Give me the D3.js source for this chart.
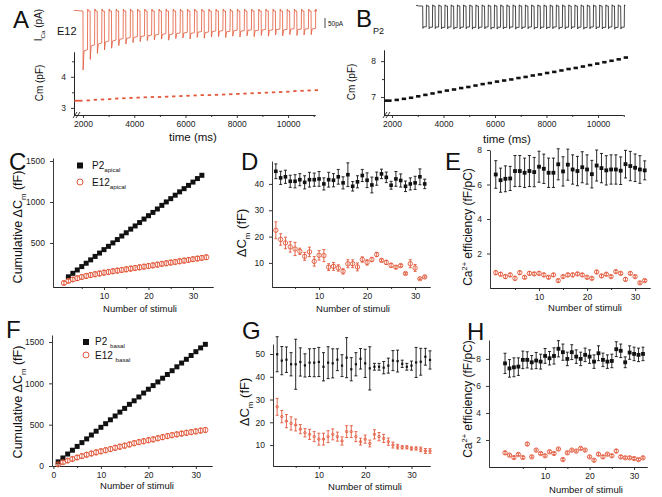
<!DOCTYPE html>
<html><head><meta charset="utf-8">
<script src="https://cdn.jsdelivr.net/npm/d3@7"></script>
<style>
body{margin:0;background:#fff}
svg{font-family:"Liberation Sans",Arial,sans-serif}
.axis path,.axis line{stroke:#222;stroke-width:0.9}
.axis text{font-size:8.5px;fill:#222}
</style></head><body><svg id="fig" width="662" height="497"></svg>
<script>
// ---- traces (A, B) ----
const pulseTimes = [2000,2278,2556,2834,3112,3390,3668,3946,4224,4502,4780,5058,5336,5614,5892,6170,6448,6726,7004,7282,7560,7838,8116,8394,8672,8950,9228,9506,9784,10062,10340,10618,10896];
const aPeak = [295,242,212,195,186,173,165,158,153,148,144,140,146,138,135,140,132,136,130,128,133,126,130,124,128,122,126,120,124,118,122,120,118];
const aSustain = [200,175,165,155,150,142,137,132,128,124,120,117,118,113,110,112,106,108,103,101,104,99,101,97,99,95,97,93,95,91,93,91,90];
const bPeak = [112,114,113,115,114,116,115,114,116,115,114,116,115,115,114,116,115,114,116,115,115,114,116,115,114,115,116,114,115,115,114,116,115];
const bSustain = [104,106,105,107,105,108,106,105,107,106,105,108,106,107,105,107,106,105,108,106,107,105,107,106,105,106,108,105,106,107,105,107,106];
const cmE12 = [3.23,3.24,3.26,3.27,3.28,3.30,3.31,3.32,3.33,3.34,3.35,3.35,3.36,3.37,3.38,3.39,3.40,3.41,3.41,3.42,3.43,3.44,3.45,3.46,3.47,3.48,3.49,3.50,3.51,3.52,3.54,3.55,3.56,3.57];
const cmP2 = [6.90,6.92,6.95,6.98,7.02,7.06,7.10,7.14,7.18,7.21,7.25,7.28,7.32,7.36,7.39,7.43,7.46,7.49,7.53,7.56,7.60,7.63,7.67,7.70,7.74,7.78,7.81,7.85,7.89,7.93,7.97,8.01,8.05,8.10];
const timeTicks = [2000,4000,6000,8000,10000];
const timeMinor = [3000,5000,7000,9000,11000];

// ---- apical (C, D, E) ----
const stimTicks = [10,20,30];
const stimMinor = [5,15,25];
const cumApicalP2 = [87,130,171,212,253,294,336,377,419,459,501,542,585,625,669,708,749,792,833,873,915,959,1001,1041,1083,1124,1163,1203,1243,1286,1326]; // stimuli 2..32
const cumApicalE12 = [12,38,55,70,85,98,109,119,128,138,146,155,163,171,179,187,195,203,211,219,227,236,245,253,261,269,277,285,293,302,310,318,326];
const cumApicalE12Err = [20,25,25,28,28,30,30,30,30,30,30,30,30,30,30,30,30,30,30,30,30,30,30,30,30,30,30,30,28,28,28,28,28];
const dApicalP2 = [44.8,42.3,42.7,41.0,41.0,41.6,40.6,41.6,41.6,41.9,40.0,41.6,41.4,42.7,40.4,43.5,39.1,40.8,43.2,41.4,39.6,42.0,43.8,42.5,39.5,41.9,41.3,39.1,40.0,40.4,42.7,40.0];
const dApicalP2Err = [2.8,2.5,2.5,2.3,2.5,2.3,2.5,2.8,2.5,2.8,2.3,2.8,2.5,2.8,2.3,4.5,1.8,2.3,2.3,2.8,3,2.5,1.8,2,1.5,2.8,2.5,2,2.3,2.5,3,1.8];
const dApicalE12 = [22.4,18.9,17.6,16.1,15.3,14.4,12.5,14.2,10.6,12.9,12.8,8.4,8.7,8.1,6.8,9.7,9.7,8.5,11.3,10.2,11.3,13.2,11.0,10.2,9.1,8.4,9.0,6.0,9.7,8.1,4.0,4.7];
const dApicalE12Err = [3.2,2.2,2.2,2,2.5,1.2,1.5,1.8,1.8,1.8,2.3,1.3,1.5,1.2,1,1.5,1.5,1.5,1,1,0.8,0.8,0.5,0.8,0.8,0.5,0.5,0.3,1.5,1.3,0.3,0.4];
const effApicalP2 = [6.58,6.25,6.33,6.35,6.78,6.78,6.68,6.78,6.72,7.03,6.91,6.68,6.68,7.17,6.76,7.15,6.87,6.78,7.0,6.87,6.6,7.1,6.95,6.82,6.87,6.87,6.8,7.18,7.07,6.97,6.87,6.82];
const effApicalP2Err = [0.8,0.7,0.75,0.7,0.9,0.9,0.85,0.9,0.85,0.9,0.85,0.85,0.85,0.9,0.85,0.9,0.85,0.85,0.9,0.85,0.8,0.9,0.85,0.85,0.85,0.85,0.8,0.8,0.85,0.8,0.8,0.55];
const effApicalE12 = [0.89,0.8,0.66,0.76,0.56,0.89,0.62,0.85,0.82,0.85,0.76,0.62,0.76,0.43,0.66,0.76,0.76,0.82,0.76,0.62,0.56,0.93,0.7,0.8,0.66,0.95,0.85,0.5,0.85,0.66,0.3,0.43];
const effApicalE12Err = [0.12,0.1,0.1,0.1,0.12,0.1,0.08,0.1,0.08,0.1,0.1,0.08,0.08,0.08,0.08,0.1,0.1,0.08,0.08,0.08,0.08,0.08,0.08,0.08,0.08,0.08,0.08,0.1,0.08,0.08,0.06,0.06];

// ---- basal (F, G, H) ----
const cumBasalP2 = [50,97,145,191,237,283,328,375,421,468,512,559,605,652,697,746,789,835,883,929,973,1017,1062,1107,1153,1200,1246,1291,1337,1383,1429,1472];
const cumBasalE12 = [20,45,65,85,103,120,136,151,165,178,191,205,220,234,246,261,276,289,300,312,322,336,349,362,373,383,392,401,410,419,428,436];
const cumBasalE12Err = [15,20,22,25,25,28,28,28,30,30,30,30,30,30,30,30,30,30,30,30,30,30,30,30,30,30,30,30,30,30,30,30];
const dBasalP2 = [49.9,47.1,47.5,45.5,45.5,46.5,45.0,46.2,46.2,46.5,44.4,46.2,45.9,47.5,44.9,48.4,43.3,45.5,47.9,45.9,43.7,44.4,44.4,44.0,44.9,47.1,46.9,45.7,44.4,44.9,46.3,46.6,48.8,47.4];
const dBasalP2Err = [7.7,6.2,5.6,5.1,11,6.2,5.1,6.1,6.2,6.4,6.2,7,6.4,4.8,4.8,8.8,5.1,5.1,4.5,6.2,9.5,1.5,1.5,2.7,3.3,4.4,4.8,1.6,1.5,2,6.6,5.9,3.7,4];
const dBasalE12 = [26.8,22.5,20.5,19.5,18.8,17.0,15.4,14.7,13.7,12.6,12.6,13.7,14.7,13.7,11.8,15.9,15.9,13.7,11.5,12.6,10.7,14.7,13.7,12.9,11.5,10.0,9.3,9.0,9.0,8.5,8.5,8.1,7.4,7.4];
const dBasalE12Err = [3.7,2.7,2.9,2.9,2.6,2,1.8,2.2,2.2,2.6,2.6,2.6,2.4,2,1.8,2.6,2.6,2.2,1.5,1.8,1.5,2,1.8,1.8,1.6,1.3,1,0.7,0.7,0.7,0.7,1,1.1,1];
const effBasalP2 = [7.67,7.3,7.38,7.43,7.93,7.93,7.75,7.88,7.8,8.22,8.05,8.22,8.75,8.5,8.0,8.5,8.17,8.0,8.3,8.17,7.8,8.42,7.93,7.8,7.85,8.72,8.6,7.75,8.47,8.37,8.3,8.37];
const effBasalP2Err = [0.75,0.65,0.7,0.65,0.65,0.6,0.5,0.6,0.55,0.55,0.5,0.6,0.6,0.6,0.5,0.55,0.5,0.5,0.5,0.5,0.5,0.55,0.5,0.5,0.5,0.55,0.5,0.4,0.5,0.5,0.5,0.5];
const effBasalE12 = [1.05,0.88,0.7,0.93,0.7,1.7,0.75,1.25,1.0,0.83,1.13,1.0,1.33,0.55,1.05,1.25,1.18,1.38,1.25,0.75,0.5,0.95,0.75,0.95,0.83,1.18,0.75,0.68,0.68,0.63,0.55,0.68];
const effBasalE12Err = [0.1,0.08,0.08,0.08,0.08,0.1,0.08,0.08,0.08,0.08,0.08,0.08,0.08,0.08,0.08,0.08,0.08,0.08,0.08,0.08,0.08,0.1,0.1,0.08,0.1,0.12,0.1,0.08,0.08,0.08,0.08,0.08];

const RED = "#e2583a";
const BLK = "#111";
const svg = d3.select("#fig");

function panel(xr, yr, xd, yd) {
  return {x: d3.scaleLinear().domain(xd).range(xr), y: d3.scaleLinear().domain(yd).range(yr)};
}

function axes(p, xt, xm, yt, ym) {
  const by = p.y.range()[0], lx = p.x.range()[0];
  svg.append("g").attr("class", "axis").attr("transform", `translate(0,${by})`)
    .call(d3.axisBottom(p.x).tickValues(xt).tickSize(3).tickSizeOuter(0).tickPadding(3).tickFormat(d3.format("d")));
  if (xm) svg.append("g").attr("class", "axis").attr("transform", `translate(0,${by})`)
    .call(d3.axisBottom(p.x).tickValues(xm).tickSize(2).tickSizeOuter(0).tickFormat(""));
  svg.append("g").attr("class", "axis").attr("transform", `translate(${lx},0)`)
    .call(d3.axisLeft(p.y).tickValues(yt).tickSize(3).tickSizeOuter(0).tickPadding(5).tickFormat(d3.format("d")));
  if (ym) svg.append("g").attr("class", "axis").attr("transform", `translate(${lx},0)`)
    .call(d3.axisLeft(p.y).tickValues(ym).tickSize(2).tickSizeOuter(0).tickFormat(""));
}

function brk(p) {
  const by = p.y.range()[0], lx = p.x.range()[0];
  [0, 3].forEach(o => svg.append("line")
    .attr("x1", lx - 1 + o).attr("y1", by + 3).attr("x2", lx + 3 + o).attr("y2", by - 3)
    .attr("stroke", "#222").attr("stroke-width", 0.9));
}

function squares(p, xs, ys, s, color) {
  svg.append("g").selectAll("rect").data(ys).join("rect")
    .attr("x", (d, i) => p.x(xs[i]) - s / 2).attr("y", d => p.y(d) - s / 2)
    .attr("width", s).attr("height", s).attr("fill", color);
}

function circles(p, xs, ys, r, color) {
  svg.append("g").selectAll("circle").data(ys).join("circle")
    .attr("cx", (d, i) => p.x(xs[i])).attr("cy", d => p.y(d)).attr("r", r)
    .attr("fill", "none").attr("stroke", color).attr("stroke-width", 0.9);
}

function errbars(p, xs, ys, es, cap, color) {
  const g = svg.append("g").attr("stroke", color).attr("stroke-width", 0.9);
  ys.forEach((d, i) => {
    const x = p.x(xs[i]), y1 = p.y(d - es[i]), y2 = p.y(d + es[i]);
    g.append("line").attr("x1", x).attr("x2", x).attr("y1", y1).attr("y2", y2);
    g.append("line").attr("x1", x - cap).attr("x2", x + cap).attr("y1", y1).attr("y2", y1);
    g.append("line").attr("x1", x - cap).attr("x2", x + cap).attr("y1", y2).attr("y2", y2);
  });
}

// text with sub/superscript parts: [text, kind] kind: 0 normal, 1 sub, 2 sup
function rich(x, y, parts, size, opts = {}) {
  const t = svg.append("text").attr("font-size", size).attr("fill", "#111")
    .attr("text-anchor", opts.anchor || "start");
  if (opts.rotate) t.attr("transform", `translate(${x},${y}) rotate(-90)`);
  else t.attr("x", x).attr("y", y);
  let cur = 0;
  parts.forEach(([s, k]) => {
    const want = k === 1 ? size * 0.3 : k === 2 ? -size * 0.45 : 0;
    t.append("tspan").attr("dy", want - cur).attr("font-size", k ? size * 0.62 : size).text(s);
    cur = want;
  });
  return t;
}
function label(x, y, s, size, anchor) {
  return svg.append("text").attr("x", x).attr("y", y).attr("font-size", size)
    .attr("text-anchor", anchor || "start").attr("fill", "#111").text(s);
}

const idx = n => d3.range(1, n + 1);

// ===================== A =====================
const pA = panel([74, 315], [115, 52], [1650, 11050], [2.77, 4.8]);
const yTrA = d3.scaleLinear().domain([-300, 0]).range([71, 11]);
const trA = [[1650, 3]];
pulseTimes.forEach((t, k) => {
  trA.push([t, 0], [t + 6, -aPeak[k]], [t + 40, -aSustain[k]], [t + 175, -aSustain[k] * 0.97],
    [t + 182, 0], [t + 188, 10], [t + 215, 0]);
});
trA.push([11000, 0]);
svg.append("path").datum(trA)
  .attr("d", d3.line().x(d => pA.x(d[0])).y(d => yTrA(d[1])))
  .attr("fill", "none").attr("stroke", RED).attr("stroke-width", 0.8);
// 50 pA scale bar
svg.append("line").attr("x1", 325).attr("x2", 325).attr("y1", 18).attr("y2", 18 + yTrA(-50) - yTrA(0))
  .attr("stroke", "#666").attr("stroke-width", 1.2);
label(328, 26, "50pA", 6.5);

axes(pA, timeTicks, timeMinor, [3, 4], [3.5, 4.5]);
brk(pA);
// Cm dashes, measured between pulses
const segA = [[1660, 1985, cmE12[0]]].concat(pulseTimes.map((t, k) => [t + 140, t + 270, cmE12[k + 1]]));
svg.append("g").selectAll("line").data(segA).join("line")
  .attr("x1", d => pA.x(d[0])).attr("x2", d => pA.x(d[1]))
  .attr("y1", d => pA.y(d[2])).attr("y2", d => pA.y(d[2]))
  .attr("stroke", RED).attr("stroke-width", 1.8);

label(13, 28, "A", 24);
label(57, 35, "E12", 11);
rich(42, 25, [["I", 0], ["Ca", 1], [" (pA)", 0]], 10, {rotate: true, anchor: "middle"});
rich(43, 83, [["Cm (pF)", 0]], 10, {rotate: true, anchor: "middle"});
label(193, 141, "time (ms)", 11.5, "middle");

// ===================== B =====================
const pB = panel([384, 623], [115, 50], [1690, 10970], [6.5, 8.31]);
const xTrB = d3.scaleLinear().domain([1700, 11000]).range([416, 623]);
const yTrB = d3.scaleLinear().domain([-115, 0]).range([29, 6]);
const trB = [[1700, 0], [1740, 4], [1800, 0]];
pulseTimes.forEach((t, k) => {
  trB.push([t, 0], [t + 10, -bPeak[k]], [t + 40, -bSustain[k]], [t + 160, -bSustain[k]],
    [t + 168, 0], [t + 174, 6], [t + 200, 0]);
});
svg.append("path").datum(trB)
  .attr("d", d3.line().x(d => xTrB(d[0])).y(d => yTrB(d[1])))
  .attr("fill", "none").attr("stroke", "#333").attr("stroke-width", 0.9);

axes(pB, timeTicks, timeMinor, [7, 8], [7.5]);
brk(pB);
const segB = [[1700, 1985, cmP2[0]]].concat(pulseTimes.map((t, k) => [t + 100, t + 270, cmP2[k + 1]]));
svg.append("g").selectAll("line").data(segB).join("line")
  .attr("x1", d => pB.x(d[0])).attr("x2", d => pB.x(d[1]))
  .attr("y1", d => pB.y(d[2])).attr("y2", d => pB.y(d[2]))
  .attr("stroke", BLK).attr("stroke-width", 2.6);

label(356, 27, "B", 24);
label(373, 34, "P2", 9);
rich(355, 82, [["Cm (pF)", 0]], 10, {rotate: true, anchor: "middle"});
label(507, 143, "time (ms)", 11.5, "middle");

// ===================== C =====================
const pC = panel([53, 213], [287, 158], [-1.46, 34.5], [-37, 1537]);
axes(pC, stimTicks, stimMinor, [500, 1000, 1500], null);
squares(pC, d3.range(2, 33), cumApicalP2, 5, BLK);
errbars(pC, idx(33), cumApicalE12, cumApicalE12Err, 1.5, RED);
circles(pC, idx(33), cumApicalE12, 2.6, RED);
label(9, 170, "C", 24);
rich(22, 227, [["Cumulative ΔC", 0], ["m", 1], [" (fF)", 0]], 12.5, {rotate: true, anchor: "middle"});
label(140, 312, "Number of stimuli", 9.5, "middle");
svg.append("rect").attr("x", 77).attr("y", 162.5).attr("width", 6).attr("height", 6).attr("fill", BLK);
rich(92, 169, [["P2", 0], ["apical", 1]], 10);
svg.append("circle").attr("cx", 80).attr("cy", 182).attr("r", 3).attr("fill", "none").attr("stroke", RED);
rich(92, 186, [["E12", 0], ["apical", 1]], 10);

// ===================== D =====================
const pD = panel([272, 430], [287, 161], [0.2, 33.1], [0.87, 48.7]);
axes(pD, stimTicks, stimMinor, [10, 20, 30, 40], null);
errbars(pD, idx(32), dApicalP2, dApicalP2Err, 1.5, BLK);
squares(pD, idx(32), dApicalP2, 3.6, BLK);
errbars(pD, idx(32), dApicalE12, dApicalE12Err, 1.5, RED);
circles(pD, idx(32), dApicalE12, 2.2, RED);
label(241, 170, "D", 24);
rich(246, 233, [["ΔC", 0], ["m", 1], [" (fF)", 0]], 13, {rotate: true, anchor: "middle"});
label(353, 312, "Number of stimuli", 9.5, "middle");

// ===================== E =====================
const pE = panel([490, 650], [288, 150], [-0.2, 33.1], [0, 8]);
axes(pE, stimTicks, stimMinor, [2, 4, 6, 8], null);
errbars(pE, idx(32), effApicalP2, effApicalP2Err, 1.5, BLK);
squares(pE, idx(32), effApicalP2, 3.8, BLK);
errbars(pE, idx(32), effApicalE12, effApicalE12Err, 1.2, RED);
circles(pE, idx(32), effApicalE12, 2.2, RED);
label(445, 170, "E", 24);
rich(472, 227, [["Ca", 0], ["2+", 2], [" efficiency (fF/pC)", 0]], 12, {rotate: true, anchor: "middle"});
label(585, 311, "Number of stimuli", 9.5, "middle");

// ===================== F =====================
const pF = panel([52, 212], [466, 335], [-0.3, 33.4], [0, 1585]);
axes(pF, [0, 10, 20, 30], stimMinor, [0, 500, 1000, 1500], null);
squares(pF, idx(32), cumBasalP2, 5, BLK);
errbars(pF, idx(32), cumBasalE12, cumBasalE12Err, 1.5, RED);
circles(pF, idx(32), cumBasalE12, 2.6, RED);
label(6, 338, "F", 24);
rich(22, 402, [["Cumulative ΔC", 0], ["m", 1], [" (fF)", 0]], 12.5, {rotate: true, anchor: "middle"});
label(137, 489, "Number of stimuli", 9.5, "middle");
svg.append("rect").attr("x", 83).attr("y", 339).attr("width", 6).attr("height", 6).attr("fill", BLK);
rich(95, 345, [["P2 ", 0], ["basal", 1]], 10);
svg.append("circle").attr("cx", 86).attr("cy", 355).attr("r", 3).attr("fill", "none").attr("stroke", RED);
rich(95, 359, [["E12 ", 0], ["basal", 1]], 10);

// ===================== G =====================
const pG = panel([273, 430], [466, 344], [0.1, 34], [0.8, 54.4]);
axes(pG, stimTicks, stimMinor, [10, 20, 30, 40, 50], null);
errbars(pG, idx(34), dBasalP2, dBasalP2Err, 1.5, BLK);
squares(pG, idx(34), dBasalP2, 2.2, BLK);
errbars(pG, idx(34), dBasalE12, dBasalE12Err, 1.5, RED);
circles(pG, idx(34), dBasalE12, 1.2, RED);
label(242, 339, "G", 24);
rich(249, 402, [["ΔC", 0], ["m", 1], [" (fF)", 0]], 13, {rotate: true, anchor: "middle"});
label(365, 490, "Number of stimuli", 9.5, "middle");

// ===================== H =====================
const pH = panel([489, 647], [467, 340], [-2.6, 32.9], [0, 9.4]);
axes(pH, stimTicks, stimMinor, [2, 4, 6, 8], null);
errbars(pH, idx(32), effBasalP2, effBasalP2Err, 1.5, BLK);
squares(pH, idx(32), effBasalP2, 3.8, BLK);
errbars(pH, idx(32), effBasalE12, effBasalE12Err, 1.2, RED);
circles(pH, idx(32), effBasalE12, 2.2, RED);
label(467, 340, "H", 24);
rich(472, 399, [["Ca", 0], ["2+", 2], [" efficiency (fF/pC)", 0]], 12, {rotate: true, anchor: "middle"});
label(586, 493, "Number of stimuli", 9.5, "middle");
</script></body></html>
